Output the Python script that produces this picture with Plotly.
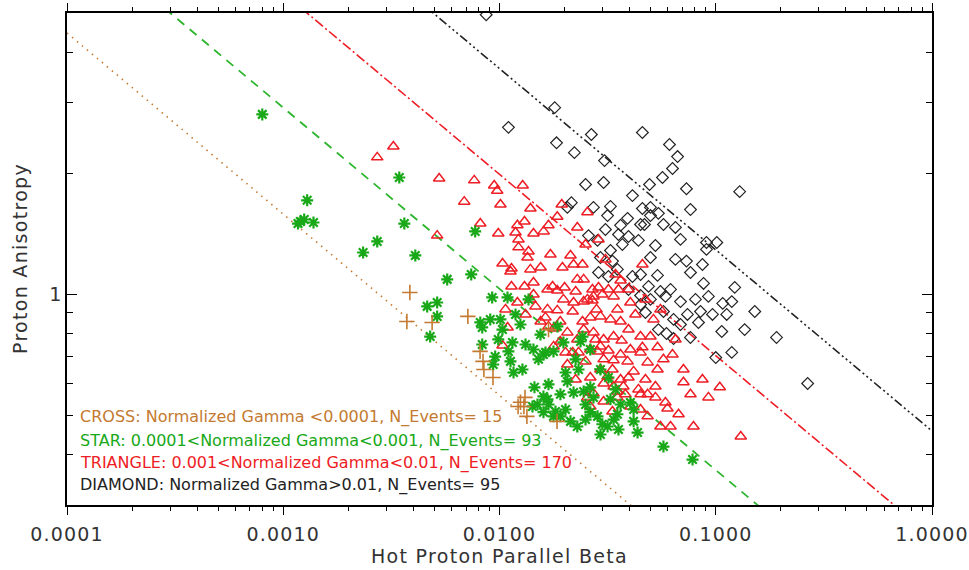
import plotly.graph_objects as go

# ---------------- data ----------------
cross_beta = [0.00385, 0.00373, 0.00488, 0.00714, 0.00813, 0.00839, 0.00847, 0.00933, 0.01312, 0.01219,
              0.01297, 0.01339, 0.01845, 0.0125, 0.01685]
cross_aniso = [1.011, 0.857, 0.852, 0.882, 0.722, 0.682, 0.651, 0.622, 0.555, 0.527,
               0.527, 0.498, 0.484, 0.54, 0.818]

star_beta = [0.00080, 0.00129, 0.00120, 0.00125, 0.00117, 0.00138, 0.00272, 0.00234, 0.00344, 0.00363,
             0.00408, 0.00772, 0.00573, 0.00740, 0.00925, 0.01089, 0.00463, 0.00515, 0.00515, 0.00478,
             0.00815, 0.00906, 0.00832, 0.0101, 0.01186, 0.01032, 0.01148, 0.0110, 0.00832, 0.00955,
             0.00935, 0.01161, 0.01277, 0.01436, 0.01515, 0.01597, 0.01451, 0.01597, 0.01499, 0.01685,
             0.01421, 0.01777, 0.01632, 0.01777, 0.01975, 0.0237, 0.0263, 0.0202, 0.0232, 0.0220,
             0.0245, 0.01667, 0.01597, 0.01913, 0.0213, 0.0229, 0.0263, 0.0284, 0.0326, 0.0351,
             0.0337, 0.0316, 0.0293, 0.0355, 0.0403, 0.0417, 0.0435, 0.0293, 0.0319, 0.0242,
             0.01853, 0.01547, 0.0573, 0.0781, 0.0344, 0.0272, 0.0417, 0.0206, 0.0263, 0.01913,
             0.0250, 0.01362, 0.0125, 0.01124, 0.01319, 0.01815, 0.0202, 0.0363, 0.0299, 0.01685,
             0.0250, 0.00987, 0.0225]
star_aniso = [2.80, 1.713, 1.518, 1.535, 1.500, 1.509, 1.354, 1.271, 1.952, 1.500,
              1.250, 1.434, 1.090, 1.121, 0.983, 0.983, 0.934, 0.955, 0.882, 0.786,
              0.852, 0.867, 0.828, 0.867, 0.892, 0.818, 0.760, 0.722, 0.751, 0.701,
              0.670, 0.640, 0.651, 0.730, 0.690, 0.709, 0.588, 0.558, 0.533, 0.533,
              0.527, 0.498, 0.718, 0.722, 0.760, 0.764, 0.730, 0.640, 0.651, 0.571,
              0.574, 0.549, 0.510, 0.498, 0.484, 0.470, 0.510, 0.498, 0.549, 0.504,
              0.489, 0.470, 0.449, 0.462, 0.539, 0.484, 0.454, 0.651, 0.622, 0.786,
              0.833, 0.795, 0.419, 0.389, 0.581, 0.555, 0.518, 0.608, 0.588, 0.565,
              0.533, 0.972, 0.842, 0.682, 0.751, 0.512, 0.518, 0.533, 0.476, 0.598,
              0.489, 0.773, 0.690]

tri_beta = [0.00272, 0.00323, 0.00526, 0.00764, 0.00945, 0.00976, 0.0128, 0.00687, 0.00515, 0.00815,
            0.0139, 0.0185, 0.0194, 0.0255, 0.0121, 0.01305, 0.01186, 0.01436, 0.0160, 0.01685,
            0.01224, 0.01224, 0.01362, 0.01347, 0.01033, 0.01136, 0.0139, 0.0287, 0.0213, 0.01955,
            0.0220, 0.0242, 0.0229, 0.0245, 0.01436, 0.01136, 0.01305, 0.0176, 0.0200, 0.0269,
            0.0287, 0.0319, 0.0363, 0.0458, 0.0272, 0.0299, 0.01436, 0.01124, 0.01667, 0.0185,
            0.01975, 0.0220, 0.0255, 0.0337, 0.0355, 0.0121, 0.0139, 0.01667, 0.0185, 0.0218,
            0.01467, 0.01066, 0.01685, 0.0178, 0.0206, 0.0263, 0.0293, 0.0326, 0.0363, 0.0109,
            0.01033, 0.0245, 0.0272, 0.0303, 0.0337, 0.0367, 0.0229, 0.0263, 0.0293, 0.0319,
            0.0303, 0.0337, 0.0363, 0.0293, 0.0316, 0.0303, 0.0363, 0.0351, 0.0303, 0.0255,
            0.0202, 0.0206, 0.0351, 0.0272, 0.0245, 0.0269, 0.0403, 0.0351, 0.0449, 0.0499,
            0.0178, 0.0218, 0.0232, 0.0284, 0.0458, 0.0538, 0.0449, 0.0391, 0.0484, 0.0573,
            0.0631, 0.0538, 0.0709, 0.0395, 0.0473, 0.0868, 0.0337, 0.0374, 0.0439, 0.0526,
            0.1044, 0.0484, 0.0925, 0.0526, 0.0585, 0.0598, 0.0403, 0.0484, 0.0673, 0.0555,
            0.0618, 0.0789, 0.1305, 0.0263, 0.0515, 0.0709, 0.0449, 0.0163, 0.0191, 0.0242,
            0.0281, 0.0395, 0.0425, 0.0278, 0.0250, 0.0403, 0.0333, 0.0225, 0.0263, 0.0417,
            0.0382, 0.0333, 0.0449, 0.0191, 0.0155, 0.0132, 0.0225, 0.0344, 0.0309, 0.0172,
            0.0155, 0.0250, 0.00987, 0.0101, 0.0229, 0.0395, 0.0473, 0.0555, 0.0651, 0.0764]
tri_aniso = [2.19, 2.33, 1.94, 1.92, 1.865, 1.81, 1.865, 1.70, 1.40, 1.50,
             1.635, 1.56, 1.673, 1.60, 1.485, 1.518, 1.425, 1.417, 1.434, 1.485,
             1.37, 1.309, 1.279, 1.235, 1.194, 1.16, 1.154, 1.37, 1.25, 1.167,
             1.187, 1.187, 1.09, 1.09, 1.071, 1.047, 1.047, 1.047, 1.041, 1.029,
             1.041, 1.029, 1.083, 1.187, 0.989, 1.0, 1.0, 1.14, 1.029, 1.023,
             0.972, 0.955, 0.972, 0.989, 1.029, 0.955, 0.972, 0.918, 0.913, 0.907,
             0.934, 0.918, 0.833, 0.823, 0.805, 0.877, 0.882, 0.867, 0.857, 0.828,
             0.747, 0.818, 0.805, 0.773, 0.786, 0.768, 0.773, 0.730, 0.743, 0.726,
             0.690, 0.686, 0.709, 0.651, 0.626, 0.601, 0.615, 0.555, 0.542, 0.555,
             0.718, 0.670, 0.574, 0.568, 0.960, 0.966, 0.955, 0.918, 0.786, 0.786,
             0.743, 0.718, 0.718, 0.722, 0.739, 0.739, 0.718, 0.682, 0.678, 0.690,
             0.709, 0.651, 0.651, 0.622, 0.615, 0.615, 0.591, 0.591, 0.581, 0.591,
             0.588, 0.565, 0.555, 0.555, 0.539, 0.521, 0.527, 0.498, 0.504, 0.470,
             0.470, 0.470, 0.444, 0.527, 0.867, 0.605, 0.565, 0.877, 0.857, 0.857,
             0.918, 0.818, 0.892, 0.773, 0.682, 0.730, 0.651, 0.615, 0.622, 0.644,
             0.565, 0.512, 0.518, 0.764, 0.857, 0.892, 1.017, 1.121, 1.222, 1.257,
             1.167, 1.331, 1.417, 1.673, 1.467, 1.029, 0.972, 0.918, 0.773, 0.565]

dia_beta = [0.00868, 0.0180, 0.0266, 0.0110, 0.01835, 0.0222, 0.0306, 0.0458, 0.0611, 0.0666,
            0.0631, 0.0567, 0.0494, 0.0732, 0.0303, 0.0412, 0.129, 0.0215, 0.0206, 0.0272,
            0.0326, 0.0316, 0.0458, 0.0499, 0.0543, 0.0499, 0.0391, 0.0363, 0.0468, 0.0573,
            0.0651, 0.0309, 0.0258, 0.0395, 0.0439, 0.0284, 0.0526, 0.0326, 0.0906, 0.1011,
            0.0906, 0.0499, 0.0651, 0.0293, 0.0351, 0.0287, 0.0319, 0.0412, 0.0449, 0.0538,
            0.0764, 0.0878, 0.1224, 0.0489, 0.0618, 0.0395, 0.0449, 0.0925, 0.0687, 0.1077,
            0.1186, 0.1515, 0.0473, 0.0573, 0.0966, 0.0832, 0.0687, 0.0638, 0.0543, 0.0592,
            0.0638, 0.1066, 0.191, 0.0764, 0.1186, 0.100, 0.266, 0.0585, 0.0449, 0.0370,
            0.0333, 0.0732, 0.0806, 0.0850, 0.0740, 0.0499, 0.0555, 0.0355, 0.0687, 0.0250,
            0.0764, 0.1124, 0.136, 0.0868, 0.0449]
dia_aniso = [4.95, 2.91, 2.496, 2.60, 2.38, 2.25, 2.15, 2.525, 2.357, 2.20,
             2.055, 1.952, 1.875, 1.83, 1.897, 1.76, 1.80, 1.69, 1.645, 1.645,
             1.654, 1.57, 1.635, 1.645, 1.59, 1.57, 1.545, 1.485, 1.492, 1.492,
             1.467, 1.45, 1.40, 1.393, 1.362, 1.362, 1.323, 1.286, 1.346, 1.346,
             1.294, 1.235, 1.222, 1.235, 1.154, 1.134, 1.108, 1.108, 1.121, 1.115,
             1.134, 1.065, 1.041, 1.047, 1.029, 1.029, 0.994, 0.989, 0.960, 0.950,
             0.960, 0.907, 0.902, 0.907, 0.892, 0.852, 0.842, 0.867, 0.818, 0.80,
             0.777, 0.809, 0.782, 0.782, 0.718, 0.697, 0.601, 0.989, 0.944, 1.331,
             1.21, 1.21, 0.972, 0.907, 0.892, 0.972, 1.017, 1.409, 1.37, 1.875,
             1.625, 0.892, 0.818, 1.187, 1.492]

# threshold lines: end points (beta, anisotropy)
line_beta = [0.0001, 1.0]
line_cross_aniso = [4.46, 0.0707]
line_star_aniso = [8.2, 0.130]
line_tri_aniso = [15.8, 0.250]
line_dia_aniso = [28.9, 0.458]

x_tick_vals = [0.0001, 0.001, 0.01, 0.1, 1.0]
x_tick_text = ["0.0001", "0.0010", "0.0100", "0.1000", "1.0000"]
y_tick_vals = [1]
y_tick_text = ["1"]
y_minor_vals = [0.3, 0.4, 0.5, 0.6, 0.7, 0.8, 0.9, 2, 3, 4]

legend_lines = [
    "CROSS: Normalized Gamma <0.0001, N_Events= 15",
    "STAR: 0.0001<Normalized Gamma<0.001, N_Events= 93",
    "TRIANGLE: 0.001<Normalized Gamma<0.01, N_Events= 170",
    "DIAMOND: Normalized Gamma>0.01, N_Events= 95",
]

BROWN = "#C47A30"
GREEN = "#18A818"
LINE_GREEN = "#2DB52D"
RED = "#EE1C24"
BLACK = "#222222"

x_minor_vals = [d * k for d in x_tick_vals[:-1] for k in range(2, 10)]


def spaced(s, px=1.2):
    return '<span style="letter-spacing:%spx">%s</span>' % (px, s)


fig = go.Figure()

# threshold lines
fig.add_trace(go.Scatter(x=line_beta, y=line_cross_aniso, mode="lines",
                         line=dict(color=BROWN, width=1.6, dash="1.5px,5px"), hoverinfo="skip"))
fig.add_trace(go.Scatter(x=line_beta, y=line_star_aniso, mode="lines",
                         line=dict(color=LINE_GREEN, width=1.8, dash="9px,7px"), hoverinfo="skip"))
fig.add_trace(go.Scatter(x=line_beta, y=line_tri_aniso, mode="lines",
                         line=dict(color=RED, width=1.6, dash="10px,3px,2px,3px"), hoverinfo="skip"))
fig.add_trace(go.Scatter(x=line_beta, y=line_dia_aniso, mode="lines",
                         line=dict(color=BLACK, width=1.6, dash="9px,3px,2px,3px,2px,3px,2px,3px"), hoverinfo="skip"))

# scatter points
fig.add_trace(go.Scatter(x=dia_beta, y=dia_aniso, mode="markers",
                         marker=dict(symbol="diamond-open", size=9, color=BLACK, line=dict(width=1.2, color=BLACK))))
fig.add_trace(go.Scatter(x=tri_beta, y=tri_aniso, mode="markers",
                         marker=dict(symbol="triangle-up-open", size=10, color=RED, line=dict(width=1.5, color=RED))))
fig.add_trace(go.Scatter(x=star_beta, y=star_aniso, mode="markers",
                         marker=dict(symbol="asterisk-open", size=10, color=GREEN, line=dict(width=2.2, color=GREEN))))
fig.add_trace(go.Scatter(x=cross_beta, y=cross_aniso, mode="markers",
                         marker=dict(symbol="cross-thin-open", size=11, color=BROWN, line=dict(width=1.6, color=BROWN))))

legend_colors = [BROWN, GREEN, RED, BLACK]
legend_y = [0.178, 0.130, 0.0854, 0.0407]
for txt, col, yy in zip(legend_lines, legend_colors, legend_y):
    fig.add_annotation(text=txt, x=0.0127, y=yy, xref="paper", yref="paper",
                       xanchor="left", yanchor="middle", showarrow=False,
                       font=dict(family="DejaVu Sans", size=16, color=col))

fig.add_annotation(text=spaced("Hot Proton Parallel Beta", 1.3),
                   x=0.5, y=-0.1036, xref="paper", yref="paper",
                   xanchor="center", yanchor="middle", showarrow=False,
                   font=dict(family="DejaVu Sans", size=19, color="#333333"))
fig.add_annotation(text=spaced("Proton Anisotropy", 1.3),
                   x=-0.0543, y=0.5, xref="paper", yref="paper",
                   xanchor="center", yanchor="middle", showarrow=False, textangle=-90,
                   font=dict(family="DejaVu Sans", size=19, color="#333333"))

fig.update_layout(
    width=969, height=570,
    margin=dict(l=67, r=37, t=13, b=65, autoexpand=False),
    paper_bgcolor="white", plot_bgcolor="white",
    showlegend=False,
    font=dict(family="DejaVu Sans", color="#333333"),
)
fig.update_xaxes(
    type="log", range=[-4, 0], automargin=False,
    tickvals=x_tick_vals, ticktext=[spaced(t, 1.2) for t in x_tick_text],
    ticks="outside", ticklen=8, tickwidth=1.3, tickcolor="black",
    showline=True, linecolor="black", linewidth=1.5, mirror="allticks",
    showgrid=False, zeroline=False,
    tickfont=dict(family="DejaVu Sans", size=19, color="#333333"),
    ticklabelstandoff=3,
    minor=dict(tickvals=x_minor_vals, ticks="outside", ticklen=4, tickwidth=1.2, tickcolor="black", showgrid=False),
)
fig.update_yaxes(
    type="log", range=[-0.5229, 0.69897], automargin=False,
    tickvals=y_tick_vals, ticktext=y_tick_text,
    ticks="inside", ticklen=10, tickwidth=1.3, tickcolor="black",
    showline=True, linecolor="black", linewidth=1.5, mirror="allticks",
    showgrid=False, zeroline=False,
    tickfont=dict(family="DejaVu Sans", size=19, color="#333333"),
    minor=dict(tickvals=y_minor_vals, ticks="inside", ticklen=6, tickwidth=1.2, tickcolor="black", showgrid=False),
)

fig.write_html("out.html", config={"displayModeBar": False},
               post_script="document.body.style.margin='0px';")
